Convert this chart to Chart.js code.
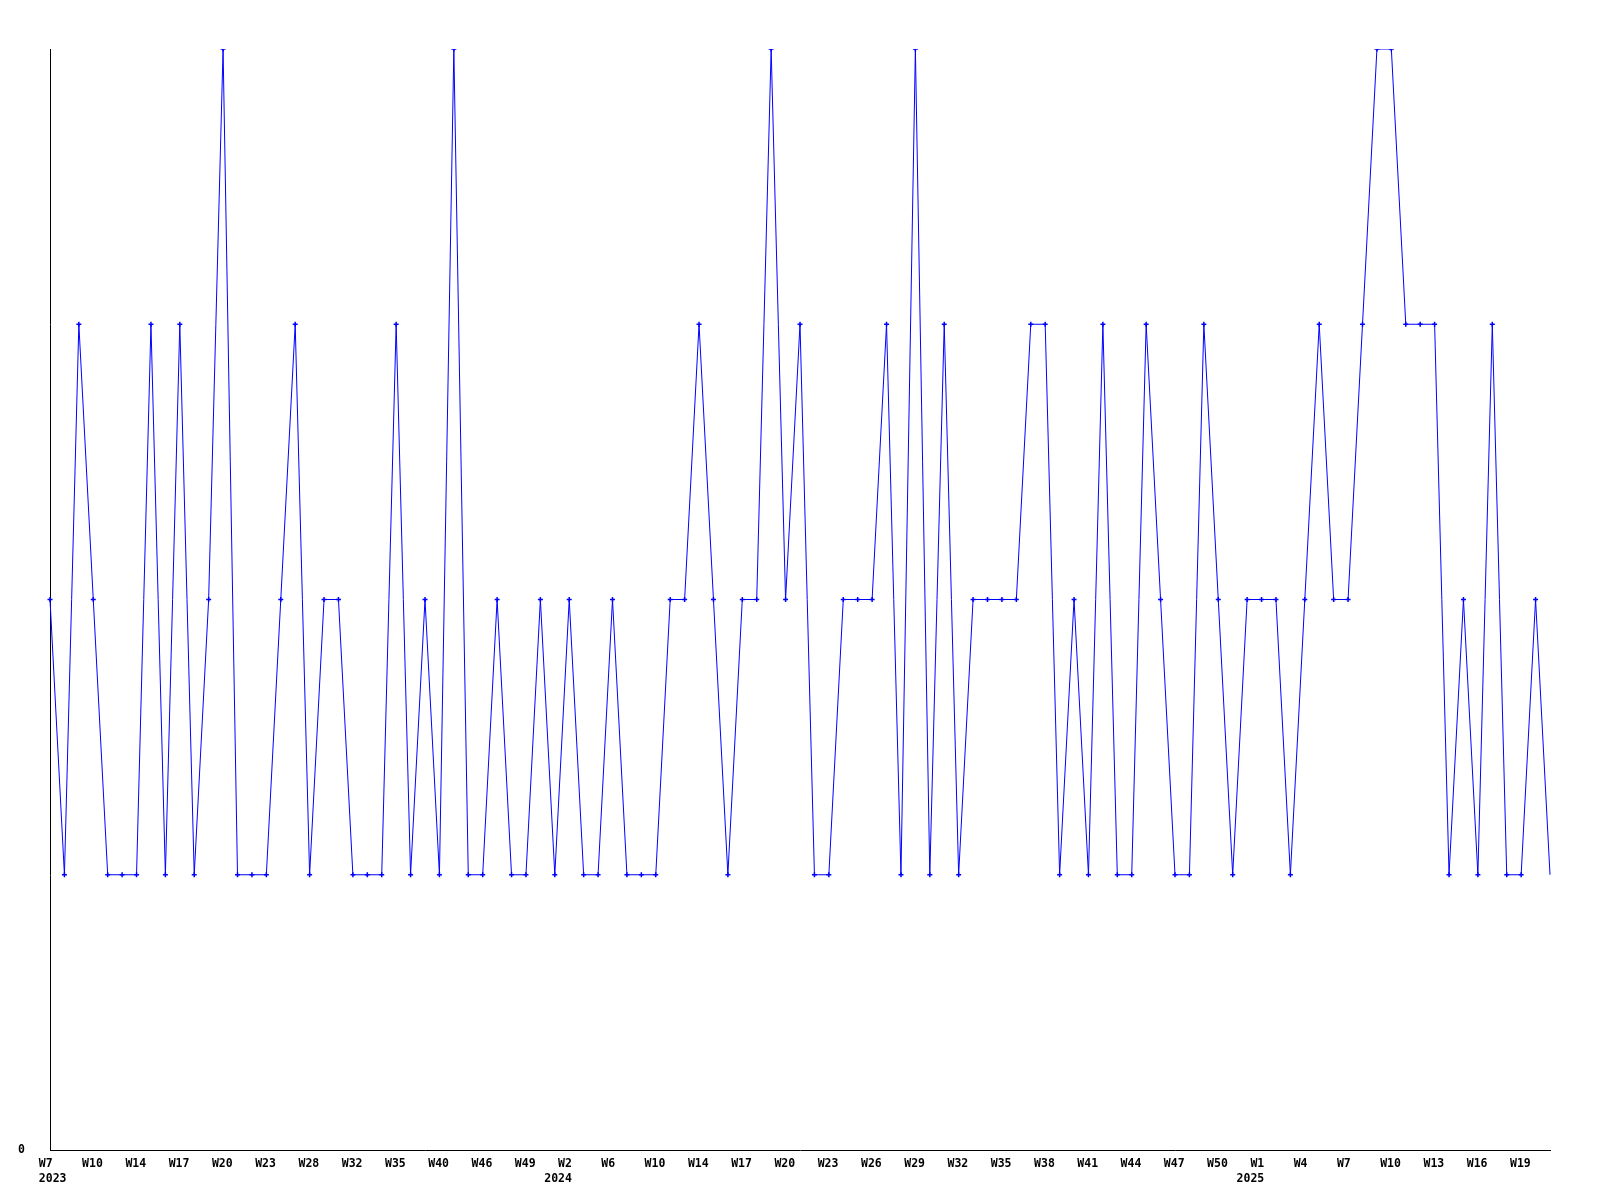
<!DOCTYPE html>
<html>
<head>
<meta charset="utf-8">
<script src="https://cdn.jsdelivr.net/npm/chart.js@4"></script>
<style>
  html, body { margin: 0; padding: 0; background: #fff; }
  .chart-box { width: 1600px; height: 1200px; }
</style>
</head>
<body>
<div class="chart-box"><canvas id="weekChart"></canvas></div>
<script>
// week numbers, one per point
const weeks = [
    7, 8, 9, 10, 11, 13, 14, 15, 16, 17, 18, 19, 20, 21, 22, 23, 24, 26, 28, 29, 30, 32, 33, 34, 35, 36, 38, 40, 42, 44, 46, 47, 48, 49, 50, 52,
    2, 3, 5, 6, 7, 9, 10, 11, 13, 14, 15, 16, 17, 18, 19, 20, 21, 22, 23, 24, 25, 26, 27, 28, 29, 30, 31, 32, 33, 34, 35, 36, 37, 38, 39, 40, 41, 42, 43, 44, 45, 46, 47, 48, 49, 50, 51, 52,
    1, 2, 3, 4, 5, 6, 7, 8, 9, 10, 11, 12, 13, 14, 15, 16, 17, 18, 19, 20, 21
]
// year shown under the first week of each year (point index -> year)
const yearStarts = { 0: '2023', 36: '2024', 84: '2025' }

const counts = [
    2, 1, 3, 2, 1, 1, 1, 3, 1, 3, 1, 2, 4, 1, 1, 1, 2, 3, 1, 2, 2, 1, 1, 1, 3, 1, 2, 1, 4, 1, 1, 2, 1, 1, 2, 1,
    2, 1, 1, 2, 1, 1, 1, 2, 2, 3, 2, 1, 2, 2, 4, 2, 3, 1, 1, 2, 2, 2, 3, 1, 4, 1, 3, 1, 2, 2, 2, 2, 3, 3, 1, 2,
    1, 3, 1, 1, 3, 2, 1, 1, 3, 2, 1, 2, 2, 2, 1, 2, 3, 2, 2, 3, 4, 4, 3, 3, 3, 1, 2, 1, 3, 1, 1, 2, 1
]

const yTicks = [0]

// week text is indented two characters so the year sits a bit further left, like the original
const labels = weeks.map((w, i) => {
    const wk = '  W' + w
    if (!yearStarts[i]) return wk
    return [wk, (i === 0 ? '  ' : '') + yearStarts[i]]
})

const ctx = document.getElementById('weekChart')
const labelFont = { family: 'DejaVu Sans Mono', size: 11.5, weight: 'bold', lineHeight: 1.3 }

new Chart(ctx, {
    type: 'line',
    data: {
        labels: labels,
        datasets: [{
            data: counts,
            borderColor: '#0000ff',
            backgroundColor: '#0000ff',
            borderWidth: 1,
            pointStyle: 'cross',
            pointRadius: (c) => c.dataIndex === counts.length - 1 ? 0 : 2.5,
            pointBorderWidth: 1.5,
            fill: false,
            tension: 0
        }]
    },
    options: {
        responsive: true,
        maintainAspectRatio: false,
        animation: false,
        layout: { padding: { top: 49, right: 50, left: 0, bottom: 0 } },
        scales: {
            x: {
                offset: false,
                grid: { display: false, drawTicks: false },
                border: { display: true, color: '#000', width: 1 },
                ticks: {
                    autoSkip: false,
                    maxRotation: 0,
                    align: 'start',
                    labelOffset: -25,
                    padding: 7,
                    color: '#000',
                    font: labelFont,
                    callback: function (val, i) {
                        return i % 3 === 0 ? this.getLabelForValue(val) : ''
                    }
                },
                afterFit: (axis) => { axis.height = 50 }
            },
            y: {
                min: 0,
                max: 4,
                grid: { display: false, drawTicks: false },
                border: { display: true, color: '#000', width: 1 },
                afterBuildTicks: (axis) => { axis.ticks = yTicks.map(v => ({ value: v })) },
                ticks: {
                    padding: 25,
                    color: '#000',
                    font: labelFont,
                    callback: (v) => String(v)
                },
                afterFit: (axis) => { axis.width = 50 }
            }
        },
        plugins: {
            legend: { display: false },
            tooltip: { enabled: false }
        }
    }
})
</script>
</body>
</html>
